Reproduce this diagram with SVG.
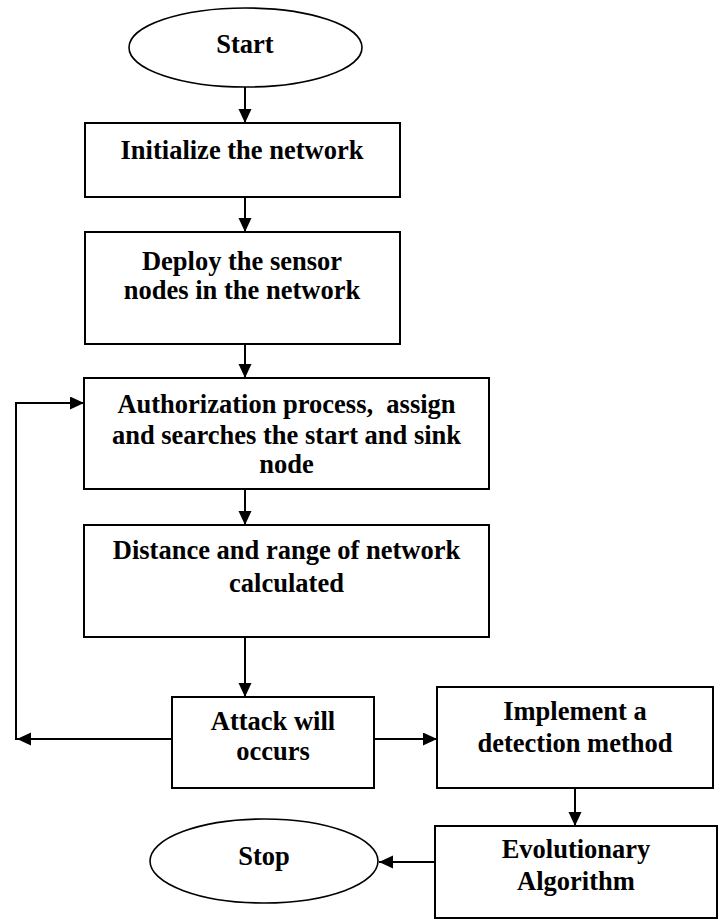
<svg xmlns="http://www.w3.org/2000/svg" width="721" height="919" viewBox="0 0 721 919">
<style>
.box{fill:#fff;stroke:#000;stroke-width:2}
.term{fill:#fff;stroke:#000;stroke-width:1.6}
.lbl{font-family:"Liberation Serif","Times New Roman",serif;font-weight:bold;font-size:26.5px;text-anchor:middle;fill:#000;white-space:pre}
.con{fill:none;stroke:#000;stroke-width:2}
</style>
<defs>
<marker id="ah" markerUnits="userSpaceOnUse" markerWidth="14" markerHeight="14" refX="14" refY="6.5" orient="auto">
<path d="M0,0 L14,6.5 L0,13 z" fill="#000"/>
</marker>
</defs>
<rect width="721" height="919" fill="#fff"/>
<g id="connectors">
<path class="con" d="M245,87 V123" marker-end="url(#ah)"/>
<path class="con" d="M245,197 V232" marker-end="url(#ah)"/>
<path class="con" d="M245,344 V378" marker-end="url(#ah)"/>
<path class="con" d="M245,489 V525" marker-end="url(#ah)"/>
<path class="con" d="M245,637 V697" marker-end="url(#ah)"/>
<path class="con" d="M172,739 H17" marker-end="url(#ah)"/>
<path class="con" d="M16,740 V403 H84" marker-end="url(#ah)"/>
<path class="con" d="M374,739 H437" marker-end="url(#ah)"/>
<path class="con" d="M575,788 V826" marker-end="url(#ah)"/>
<path class="con" d="M435,862 H379" marker-end="url(#ah)"/>
</g>
<g id="start">
<ellipse class="term" cx="245.5" cy="47.5" rx="116.5" ry="39.5"/>
<text class="lbl" x="245" y="53">Start</text>
</g>
<g id="init">
<rect class="box" x="85" y="123" width="315" height="74"/>
<text class="lbl" x="242" y="159">Initialize the network</text>
</g>
<g id="deploy">
<rect class="box" x="85" y="232" width="315" height="112"/>
<text class="lbl" x="242" y="270">Deploy the sensor</text>
<text class="lbl" x="242" y="299">nodes in the network</text>
</g>
<g id="auth">
<rect class="box" x="84" y="378" width="405" height="111"/>
<text class="lbl" x="286.5" y="413">Authorization process,  assign</text>
<text class="lbl" x="286.5" y="444">and searches the start and sink</text>
<text class="lbl" x="286.5" y="473">node</text>
</g>
<g id="distance">
<rect class="box" x="84" y="525" width="405" height="112"/>
<text class="lbl" x="286.5" y="559">Distance and range of network</text>
<text class="lbl" x="286.5" y="592">calculated</text>
</g>
<g id="attack">
<rect class="box" x="172" y="697" width="202" height="91"/>
<text class="lbl" x="273" y="730">Attack will</text>
<text class="lbl" x="273" y="760">occurs</text>
</g>
<g id="detect">
<rect class="box" x="437" y="687" width="276" height="101"/>
<text class="lbl" x="575" y="720">Implement a</text>
<text class="lbl" x="575" y="752">detection method</text>
</g>
<g id="evo">
<rect class="box" x="435" y="826" width="282" height="92"/>
<text class="lbl" x="576" y="858">Evolutionary</text>
<text class="lbl" x="576" y="890">Algorithm</text>
</g>
<g id="stop">
<ellipse class="term" cx="264" cy="861" rx="114" ry="42"/>
<text class="lbl" x="264" y="865">Stop</text>
</g>
</svg>
